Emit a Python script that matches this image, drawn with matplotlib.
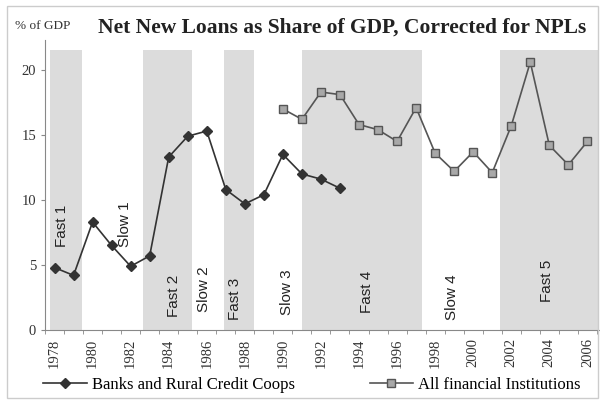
import matplotlib.pyplot as plt
from matplotlib.lines import Line2D
from matplotlib.patches import Rectangle

# data
bank_years = list(range(1978, 1994))
bank_vals = [4.8, 4.2, 8.3, 6.5, 4.9, 5.7, 13.3, 14.9, 15.3, 10.8, 9.7, 10.4, 13.5, 12.0, 11.6, 10.9]

all_years = list(range(1990, 2007))
all_vals = [17.0, 16.2, 18.3, 18.1, 15.8, 15.4, 14.5, 17.1, 13.6, 12.2, 13.7, 12.1, 15.7, 20.6, 14.2, 12.7, 14.5]

# shaded "fast" periods (start, end) in years
fast_spans = [(1977.75, 1979.45), (1982.65, 1985.2), (1986.9, 1988.5), (1991.0, 1997.3), (2001.4, 2006.6)]

phase_names = ['Fast 1', 'Slow 1', 'Fast 2', 'Slow 2', 'Fast 3', 'Slow 3', 'Fast 4', 'Slow 4', 'Fast 5']
phase_x = [1978.4, 1981.7, 1984.3, 1985.85, 1987.5, 1990.2, 1994.4, 1998.9, 2003.9]
phase_y = [8.0, 8.1, 2.6, 3.1, 2.4, 2.9, 2.9, 2.5, 3.8]

serif = ['Liberation Serif', 'DejaVu Serif']
sans = ['Liberation Sans', 'DejaVu Sans']

fig = plt.figure(figsize=(6, 4), dpi=100)
ax = fig.add_axes([0.075, 0.175, 0.923, 0.725])

for s, e in fast_spans:
    ax.axvspan(s, e, ymin=0, ymax=21.5 / 22.3, color='#dcdcdc', lw=0, zorder=0)

ax.plot(bank_years, bank_vals, color='#333333', lw=1.2, marker='D', ms=5,
        mfc='#333333', mec='#333333', zorder=3)
ax.plot(all_years, all_vals, color='#555555', lw=1.2, marker='s', ms=6,
        mfc='#a8a8a8', mec='#555555', zorder=3)

for name, x, y in zip(phase_names, phase_x, phase_y):
    ax.text(x, y, name, rotation=90, ha='center', va='center', fontsize=11,
            family=sans, color='#222222', zorder=4)

ax.set_xlim(1977.5, 2006.6)
ax.set_ylim(0, 22.3)

ax.set_xticks(range(1978, 2007, 2))
ax.set_xticklabels([str(y) for y in range(1978, 2007, 2)], rotation=90,
                   family=serif, fontsize=10.5, color='#333333')
ax.set_xticks([y + 0.5 for y in range(1977, 2007)], minor=True)
ax.tick_params(axis='x', which='major', length=0, pad=6)
ax.tick_params(axis='x', which='minor', length=3, color='#888888', direction='out')

ax.set_yticks([0, 5, 10, 15, 20])
ax.set_yticklabels(['0', '5', '10', '15', '20'], family=serif, fontsize=10.5, color='#333333')
ax.tick_params(axis='y', length=3, color='#888888', direction='out')

for side in ['top', 'right']:
    ax.spines[side].set_visible(False)
ax.spines['left'].set_color('#888888')
ax.spines['bottom'].set_color('#888888')

fig.text(0.025, 0.935, '% of GDP', family=serif, fontsize=9.5, color='#333333', va='center')
fig.text(0.57, 0.932, 'Net New Loans as Share of GDP, Corrected for NPLs',
         family=serif, fontsize=15.5, fontweight='bold', color='#222222',
         ha='center', va='center')

handles = [
    Line2D([], [], color='#333333', lw=1.2, marker='D', ms=5, mfc='#333333', mec='#333333'),
    Line2D([], [], color='#555555', lw=1.2, marker='s', ms=6, mfc='#a8a8a8', mec='#555555'),
]
fig.legend(handles, ['Banks and Rural Credit Coops', 'All financial Institutions'],
           loc='center', bbox_to_anchor=(0.52, 0.038), ncol=2, frameon=False,
           prop={'family': serif, 'size': 12}, handlelength=2.6, columnspacing=4.5,
           handletextpad=0.3)

fig.patches.append(Rectangle((0.012, 0.005), 0.985, 0.98, transform=fig.transFigure,
                             fill=False, ec='#cccccc', lw=1))

fig.savefig('out.png', dpi=100)
